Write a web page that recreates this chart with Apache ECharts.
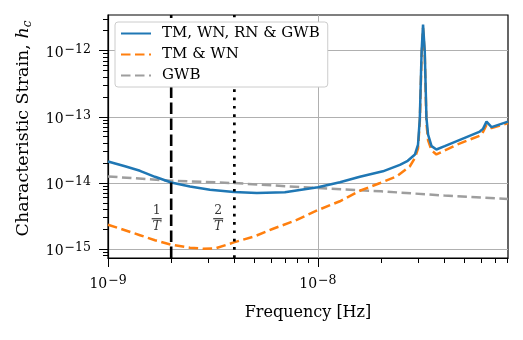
<!DOCTYPE html>
<html>
<head>
  <meta charset="UTF-8">
  <title>Characteristic Strain</title>
  <script src="https://cdn.jsdelivr.net/npm/echarts@6/dist/echarts.min.js"></script>
</head>
<body style="margin: 0">
<div id="main" style="width: 523px; height: 340px"></div>

<script>
  // values (frequency in Hz, strain h_c)
  const seriesNames = ['TM, WN, RN & GWB', 'TM & WN', 'GWB'];

  const freqFull = [1.0e-9, 1.205e-9, 1.42e-9, 1.674e-9, 2.0e-9, 2.458e-9, 3.06e-9, 3.98e-9, 5.12e-9, 6.96e-9,
    1.0e-8, 1.273e-8, 1.585e-8, 2.04e-8, 2.458e-8, 2.68e-8, 2.90e-8, 3.00e-8, 3.06e-8, 3.12e-8, 3.17e-8,
    3.23e-8, 3.29e-8, 3.35e-8, 3.48e-8, 3.67e-8, 4.02e-8, 5.91e-8, 6.12e-8, 6.36e-8, 6.72e-8, 8.05e-8];
  const hcFull = [2.105e-14, 1.782e-14, 1.523e-14, 1.236e-14, 1.014e-14, 8.79e-15, 7.87e-15, 7.26e-15, 7.01e-15, 7.21e-15,
    8.58e-15, 1.021e-14, 1.236e-14, 1.496e-14, 1.877e-14, 2.157e-14, 2.69e-14, 3.8e-14, 9.62e-14, 9.79e-13, 2.47e-12,
    9.79e-13, 9.62e-14, 5.38e-14, 3.6e-14, 3.2e-14, 3.6e-14, 5.97e-14, 6.56e-14, 8.46e-14, 6.97e-14, 8.46e-14];

  const freqTmWn = [1.0e-9, 1.205e-9, 1.42e-9, 1.674e-9, 2.0e-9, 2.458e-9, 2.83e-9, 3.23e-9, 3.98e-9, 5.01e-9,
    6.12e-9, 7.76e-9, 1.0e-8, 1.273e-8, 1.585e-8, 1.98e-8, 2.37e-8, 2.74e-8, 2.90e-8, 3.00e-8, 3.06e-8,
    3.12e-8, 3.17e-8, 3.23e-8, 3.29e-8, 3.35e-8, 3.48e-8, 3.67e-8, 4.57e-8, 6.02e-8, 6.36e-8, 6.72e-8, 8.05e-8];
  const hcTmWn = [2.33e-15, 1.923e-15, 1.616e-15, 1.358e-15, 1.161e-15, 1.046e-15, 1.01e-15, 1.018e-15, 1.258e-15, 1.56e-15,
    2.026e-15, 2.676e-15, 3.88e-15, 5.27e-15, 7.6e-15, 9.97e-15, 1.25e-14, 1.77e-14, 2.39e-14, 3.3e-14, 8.5e-14,
    8.5e-13, 2.2e-12, 8.5e-13, 8.0e-14, 4.4e-14, 3.1e-14, 2.69e-14, 3.76e-14, 5.3e-14, 7.5e-14, 6.73e-14, 8.0e-14];

  const freqGwb = [1e-9, 2e-9, 4e-9, 1e-8, 2e-8, 4e-8, 8.05e-8];
  const hcGwb = [1.25e-14, 1.08e-14, 9.93e-15, 8.34e-15, 7.46e-15, 6.43e-15, 5.69e-15];

  // 1/T and 2/T markers
  const vLineFreq = [2e-9, 4e-9];
  const vLineNum = ['1', '2'];
  const vLabelFreq = [1.706e-9, 3.35e-9];
  const vLabelHc = 2.87e-15;

  const xMin = 1e-9, xMax = 8.05e-8;
  const yMin = 7.31e-16, yMax = 3.46e-12;
  const xMajor = [1e-9, 1e-8];
  const yMajor = [1e-15, 1e-14, 1e-13, 1e-12];

  // minor ticks at 2..9 x each decade
  function minorTicks(lo, hi) {
    let out = [];
    for (let e = Math.floor(Math.log10(lo)); e <= Math.ceil(Math.log10(hi)); e++) {
      for (let m = 2; m <= 9; m++) {
        let v = m * Math.pow(10, e);
        if (v >= lo * 0.999 && v <= hi * 1.001) out.push(v);
      }
    }
    return out;
  }

  const serif = "'DejaVu Serif', serif";

  function pow10Label(v) {
    let e = Math.round(Math.log10(v));
    return '{b|10}{s|\u2212' + Math.abs(e) + '}';
  }
  const powRich = {
    b: { fontFamily: serif, fontSize: 14, lineHeight: 20, color: '#000' },
    s: { fontFamily: serif, fontSize: 12.5, lineHeight: 12, verticalAlign: 'top', padding: [0, 0, 0, 1], color: '#000' }
  };

  const zip = (xs, ys) => xs.map((x, i) => [x, ys[i]]);

  let option = {
    animation: false,
    grid: {
      left: 108, right: 15, top: 15, bottom: 82,
      show: true, borderColor: '#000', borderWidth: 1.2,
      outerBoundsMode: 'none'
    },
    legend: {
      data: seriesNames,
      orient: 'vertical',
      left: 115, top: 22,
      itemWidth: 30, itemHeight: 14, itemGap: 6,
      padding: [4, 8, 4, 5],
      backgroundColor: '#fff',
      borderColor: '#cccccc', borderWidth: 1, borderRadius: 3,
      itemStyle: { opacity: 0 },
      textStyle: { fontFamily: serif, fontSize: 15, lineHeight: 14, color: '#000', padding: [0, 0, 0, 6] },
      z: 10
    },
    xAxis: [
      {
        type: 'log', min: xMin, max: xMax,
        axisLine: { show: true, lineStyle: { color: '#000', width: 1.2 } },
        axisTick: { show: true, customValues: xMajor, length: 9, lineStyle: { color: '#000', width: 1 } },
        axisLabel: { customValues: xMajor, formatter: pow10Label, rich: powRich, margin: 16 },
        splitLine: { show: true, lineStyle: { color: '#b0b0b0', width: 1 } },
        name: 'Frequency [Hz]', nameLocation: 'middle', nameGap: 47, nameMoveOverlap: false,
        nameTextStyle: { fontFamily: serif, fontSize: 16, color: '#000' }
      },
      {
        type: 'log', min: xMin, max: xMax, position: 'top', offset: -243,
        axisLine: { show: false },
        axisTick: { show: true, inside: true, customValues: minorTicks(xMin, xMax), length: 5, lineStyle: { color: '#000', width: 1 } },
        axisLabel: { show: false },
        splitLine: { show: false }
      }
    ],
    yAxis: [
      {
        type: 'log', min: yMin, max: yMax,
        axisLine: { show: true, lineStyle: { color: '#000', width: 1.2 } },
        axisTick: { show: true, customValues: yMajor, length: 9, lineStyle: { color: '#000', width: 1 } },
        axisLabel: { customValues: yMajor, formatter: pow10Label, rich: powRich, margin: 17, padding: [5, 0, 0, 0] },
        splitLine: { show: true, lineStyle: { color: '#b0b0b0', width: 1 } },
        name: '{t|Characteristic Strain, }{i|h}{c|c}',
        nameLocation: 'middle', nameRotate: 90, nameGap: 74, nameMoveOverlap: false,
        nameTextStyle: {
          padding: [0, 0, 0, 16],
          rich: {
            t: { fontFamily: serif, fontSize: 17.5, lineHeight: 22, color: '#000' },
            i: { fontFamily: serif, fontSize: 17.5, fontStyle: 'italic', lineHeight: 22, color: '#000' },
            c: { fontFamily: serif, fontSize: 12, fontStyle: 'italic', lineHeight: 13, verticalAlign: 'bottom', color: '#000' }
          }
        }
      },
      {
        type: 'log', min: yMin, max: yMax, position: 'right', offset: -400,
        axisLine: { show: false },
        axisTick: { show: true, inside: true, customValues: minorTicks(yMin, yMax), length: 5, lineStyle: { color: '#000', width: 1 } },
        axisLabel: { show: false },
        splitLine: { show: false }
      }
    ],
    series: [
      {
        name: seriesNames[0], type: 'line', symbol: 'none', z: 4,
        data: zip(freqFull, hcFull),
        lineStyle: { color: '#1f77b4', width: 2.5 },
        itemStyle: { color: '#1f77b4' }
      },
      {
        name: seriesNames[1], type: 'line', symbol: 'none', z: 3,
        data: zip(freqTmWn, hcTmWn),
        lineStyle: { color: '#ff7f0e', width: 2.5, type: [9.5, 4.5] },
        itemStyle: { color: '#ff7f0e' }
      },
      {
        name: seriesNames[2], type: 'line', symbol: 'none', z: 2,
        data: zip(freqGwb, hcGwb),
        lineStyle: { color: '#9e9e9e', width: 2.5, type: [9.5, 4.5] },
        itemStyle: { color: '#9e9e9e' }
      },
      {
        name: '1/T', type: 'line', symbol: 'none', z: 5, silent: true,
        data: [[vLineFreq[0], yMin], [vLineFreq[0], yMax]],
        lineStyle: { color: '#000', width: 2.6, type: [11.5, 4.5] }
      },
      {
        name: '2/T', type: 'line', symbol: 'none', z: 5, silent: true,
        data: [[vLineFreq[1], yMin], [vLineFreq[1], yMax]],
        lineStyle: { color: '#000', width: 2.7, type: [2.7, 5.6] }
      },
      {
        name: 'markers', type: 'scatter', symbolSize: 0, z: 6, silent: true,
        data: vLabelFreq.map((f, i) => [f, vLabelHc, vLineNum[i]]),
        label: {
          show: true, position: 'inside',
          formatter: p => '{n|' + p.value[2] + '}\n{b|\u00a0}\n{d|T}',
          rich: {
            n: { fontFamily: serif, fontSize: 12.5, lineHeight: 12, color: '#000', align: 'center' },
            b: { fontSize: 1, width: 10, height: 1.2, lineHeight: 4, backgroundColor: '#000', align: 'center' },
            d: { fontFamily: serif, fontSize: 12.5, fontStyle: 'italic', lineHeight: 12, color: '#000', align: 'center' }
          }
        }
      }
    ]
  };

  let chart = echarts.init(document.getElementById('main'));
  chart.setOption(option);
</script>
</body>
</html>
